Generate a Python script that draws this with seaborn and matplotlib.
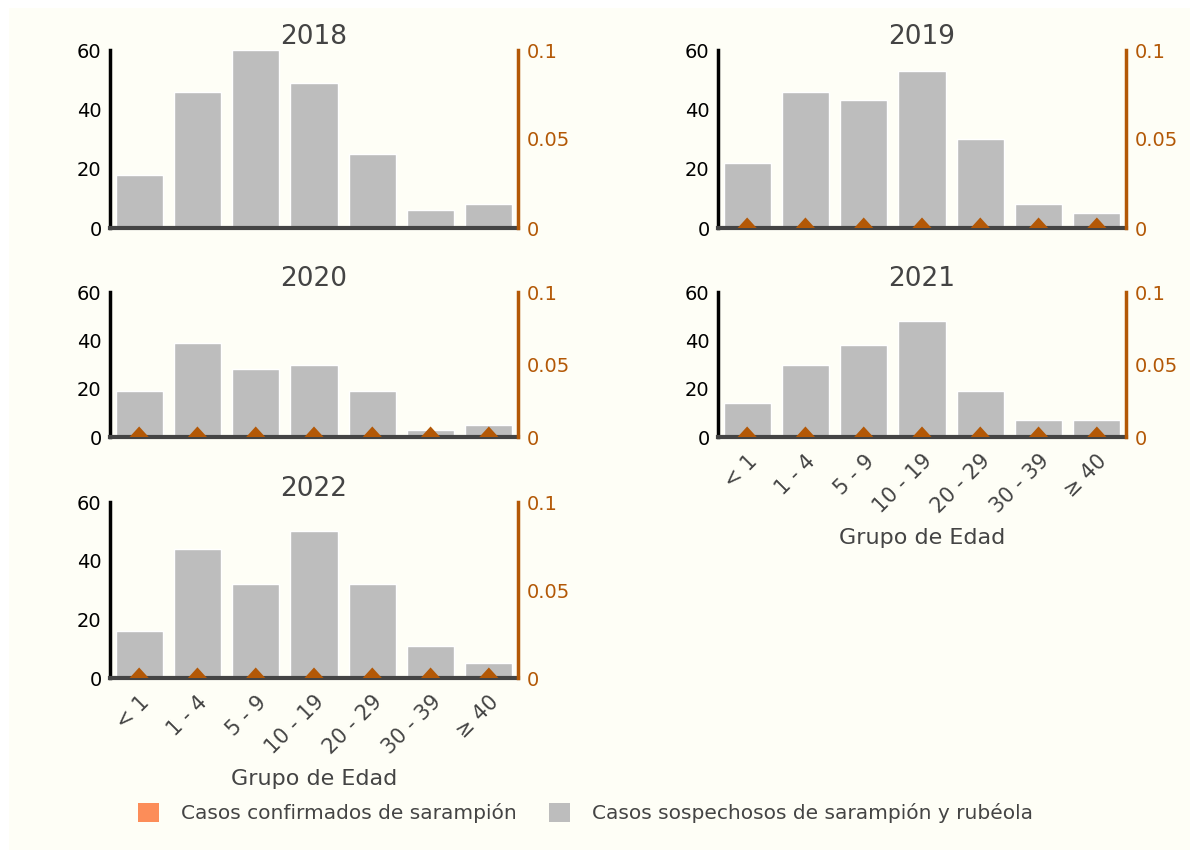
import numpy as np
import pandas as pd
import matplotlib
matplotlib.use("Agg")
import matplotlib.pyplot as plt
from matplotlib.patches import Patch, Rectangle
from matplotlib.path import Path
import seaborn as sns

# ---------------------------------------------------------------------------
# data
# ---------------------------------------------------------------------------
age_groups = ["< 1", "1 - 4", "5 - 9", "10 - 19", "20 - 29", "30 - 39", "≥ 40"]
years = ["2018", "2019", "2020", "2021", "2022"]

suspected_2018 = [18, 46, 60, 49, 25, 6, 8]
suspected_2019 = [22, 46, 43, 53, 30, 8, 5]
suspected_2020 = [19, 39, 28, 30, 19, 3, 5]
suspected_2021 = [14, 30, 38, 48, 19, 7, 7]
suspected_2022 = [16, 44, 32, 50, 32, 11, 5]

confirmed_2018 = [None] * 7          # no confirmed series shown for 2018
confirmed_2019 = [0, 0, 0, 0, 0, 0, 0]
confirmed_2020 = [0, 0, 0, 0, 0, 0, 0]
confirmed_2021 = [0, 0, 0, 0, 0, 0, 0]
confirmed_2022 = [0, 0, 0, 0, 0, 0, 0]

suspected = dict(zip(years, [suspected_2018, suspected_2019, suspected_2020,
                             suspected_2021, suspected_2022]))
confirmed = dict(zip(years, [confirmed_2018, confirmed_2019, confirmed_2020,
                             confirmed_2021, confirmed_2022]))

BG = "#fefef6"
GREY_BAR = "#bdbdbd"
DARK_ORANGE = "#b35806"
LEGEND_ORANGE = "#fc8d59"
TEXT = "#444444"

sns.set_theme(style="white")
plt.rcParams["font.family"] = ["DejaVu Sans"]

fig = plt.figure(figsize=(11.9, 8.5), dpi=100, facecolor="white")
fig.patches.append(Rectangle((9 / 1190, 0), 1, 1 - 8 / 850, transform=fig.transFigure,
                             facecolor=BG, edgecolor="none", zorder=-10))

W, H = 1190, 850


def px_axes(x0, y0, x1, y1):
    return fig.add_axes([x0 / W, 1 - y1 / H, (x1 - x0) / W, (y1 - y0) / H])


# panel boxes in pixels (left, top, right, bottom)
boxes = {
    "2018": (110, 50, 518, 228),
    "2019": (718, 50, 1126, 228),
    "2020": (110, 292, 518, 437),
    "2021": (718, 292, 1126, 437),
    "2022": (110, 502, 518, 678),
}
bottom_panels = {"2021", "2022"}

# flat triangle sitting on the zero line
tri = Path([(-1, 0), (1, 0), (0, 1.1), (-1, 0)],
           [Path.MOVETO, Path.LINETO, Path.LINETO, Path.CLOSEPOLY])

for yr in years:
    ax = px_axes(*boxes[yr])
    ax.set_facecolor("none")
    df = pd.DataFrame({"grupo": age_groups, "casos": suspected[yr]})
    sns.barplot(data=df, x="grupo", y="casos", color=GREY_BAR, width=0.81,
                saturation=1, ax=ax)
    ax.set_xlim(-0.5, 6.5)
    ax.set_ylim(0, 60)
    ax.set_yticks([0, 20, 40, 60])
    ax.tick_params(axis="y", length=0, pad=6, labelsize=14, labelcolor="black")
    ax.set_ylabel("")
    ax.set_title(yr, fontsize=19, color=TEXT, pad=4)

    for s in ["top", "right"]:
        ax.spines[s].set_visible(False)
    ax.spines["left"].set_color("black")
    ax.spines["left"].set_linewidth(2.5)
    ax.spines["bottom"].set_color(TEXT)
    ax.spines["bottom"].set_linewidth(3)

    if yr in bottom_panels:
        ax.tick_params(axis="x", length=0, pad=10, labelsize=15, labelcolor=TEXT)
        plt.setp(ax.get_xticklabels(), rotation=45, ha="right",
                 rotation_mode="anchor")
        ax.set_xlabel("Grupo de Edad", fontsize=16, color=TEXT, labelpad=8)
    else:
        ax.set_xticklabels([])
        ax.tick_params(axis="x", length=0)
        ax.set_xlabel("")

    ax2 = ax.twinx()
    ax2.set_ylim(0, 0.1)
    ax2.set_yticks([0, 0.05, 0.1])
    ax2.set_yticklabels(["0", "0.05", "0.1"])
    ax2.tick_params(axis="y", length=0, pad=6, labelsize=14, labelcolor=DARK_ORANGE)
    for s in ["top", "left", "bottom"]:
        ax2.spines[s].set_visible(False)
    ax2.spines["right"].set_color(DARK_ORANGE)
    ax2.spines["right"].set_linewidth(2.5)

    vals = confirmed[yr]
    if vals[0] is not None:
        cdf = pd.DataFrame({"x": np.arange(len(age_groups)), "y": vals})
        sns.scatterplot(data=cdf, x="x", y="y", marker=tri, s=230,
                        color=DARK_ORANGE, edgecolor="none", linewidth=0,
                        ax=ax2, zorder=5, clip_on=False)
    ax2.set_xlim(-0.5, 6.5)
    ax2.set_ylabel("")
    ax2.set_xlabel("")

handles = [Patch(facecolor=LEGEND_ORANGE, edgecolor="none",
                 label="Casos confirmados de sarampión"),
           Patch(facecolor=GREY_BAR, edgecolor="none",
                 label="Casos sospechosos de sarampión y rubéola")]
fig.legend(handles=handles, loc="center", bbox_to_anchor=(0.492, 1 - 813 / H),
           ncol=2, frameon=False, fontsize=14.5, labelcolor=TEXT,
           handlelength=1.05, handleheight=1.05, handletextpad=1.1,
           columnspacing=1.6)

fig.savefig("out.png", dpi=100, facecolor=fig.get_facecolor())
